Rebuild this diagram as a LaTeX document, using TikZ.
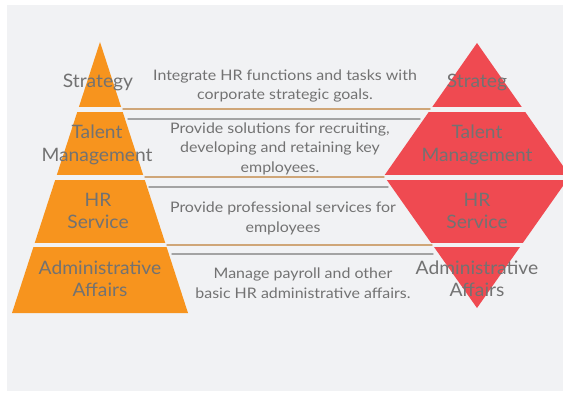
\documentclass[tikz,border=0pt]{standalone}
\usepackage{fontspec}
\setmainfont{Lato}[FakeStretch=1.04]
\newfontfamily\descfont{Lato}[FakeStretch=1.1]
\definecolor{bg}{HTML}{F1F2F4}
\definecolor{pyrorange}{HTML}{F7941E}
\definecolor{diared}{HTML}{EF4A51}
\definecolor{txtgray}{HTML}{727272}
\definecolor{linktan}{HTML}{CFA678}
\definecolor{linkgray}{HTML}{A3A3A3}
\tikzset{
	lvl/.style={text=txtgray,align=center,font=\fontsize{18.5}{22.5}\selectfont},
	desc/.style={text=txtgray,align=center,font=\descfont\fontsize{14.5}{19.5}\selectfont},
	tanlink/.style={draw=linktan,line width=1.4pt},
	graylink/.style={draw=linkgray,line width=1.4pt},
	gap/.style={draw=bg,line width=4.6pt}
}
\begin{document}
\begin{tikzpicture}[x=1pt,y=-1pt,line cap=round,line join=round]
	\fill[white] (0,0) rectangle (563,393);
	\fill[bg] (7,5) rectangle (563,391);
	\clip (0,0) rectangle (563,393);
	% pyramid and diamond
	\fill[pyrorange] (100,42) -- (188,313) -- (12,313) -- cycle;
	\fill[diared] (477,43) -- (570,176) -- (477,308) -- (384,176) -- cycle;
	\foreach \y in {109.5,177.5,245}
		\draw[gap,line cap=butt] (7,\y) -- (563,\y);
	% end points of the links
	\coordinate (t1l) at (123,109); \coordinate (t1r) at (430,109);
	\coordinate (g1l) at (128,119); \coordinate (g1r) at (420,119);
	\coordinate (t2l) at (145,177); \coordinate (t2r) at (384,177);
	\coordinate (g2l) at (149,187); \coordinate (g2r) at (388,187);
	\coordinate (t3l) at (167,245); \coordinate (t3r) at (432,245);
	\coordinate (g3l) at (172,254); \coordinate (g3r) at (433,254);
	\draw[tanlink] (t1l) -- (t1r);
	\draw[graylink] (g1l) -- (g1r);
	\draw[tanlink] (t2l) -- (t2r);
	\draw[graylink] (g2l) -- (g2r);
	\draw[tanlink] (t3l) -- (t3r);
	\draw[graylink] (g3l) -- (g3r);
	% labels
	\node[lvl] (pstrat) at (98,82) {Strategy};
	\node[lvl] (ptalent) at (97,145) {Talent\\Management};
	\node[lvl] (phr) at (98,211) {HR\\Service};
	\node[lvl] (padmin) at (100,279) {Administrative\\Affairs};
	\node[lvl] (dstrat) at (477,82) {Strateg};
	\node[lvl] (dtalent) at (477,145) {Talent\\Management};
	\node[lvl] (dhr) at (477,211) {HR\\Service};
	\node[lvl] (dadmin) at (477,279) {Administrative\\Affairs};
	% descriptions
	\node[desc] (strat) at (285,86) {Integrate HR functions and tasks with\\corporate strategic goals.};
	\node[desc] (talent) at (280,148.5) {Provide solutions for recruiting,\\developing and retaining key\\employees.};
	\node[desc] (hr) at (283,218.5) {Provide professional services for\\employees};
	\node[desc] (admin) at (303,283) {Manage payroll and other\\basic HR administrative affairs.};
\end{tikzpicture}
\end{document}
